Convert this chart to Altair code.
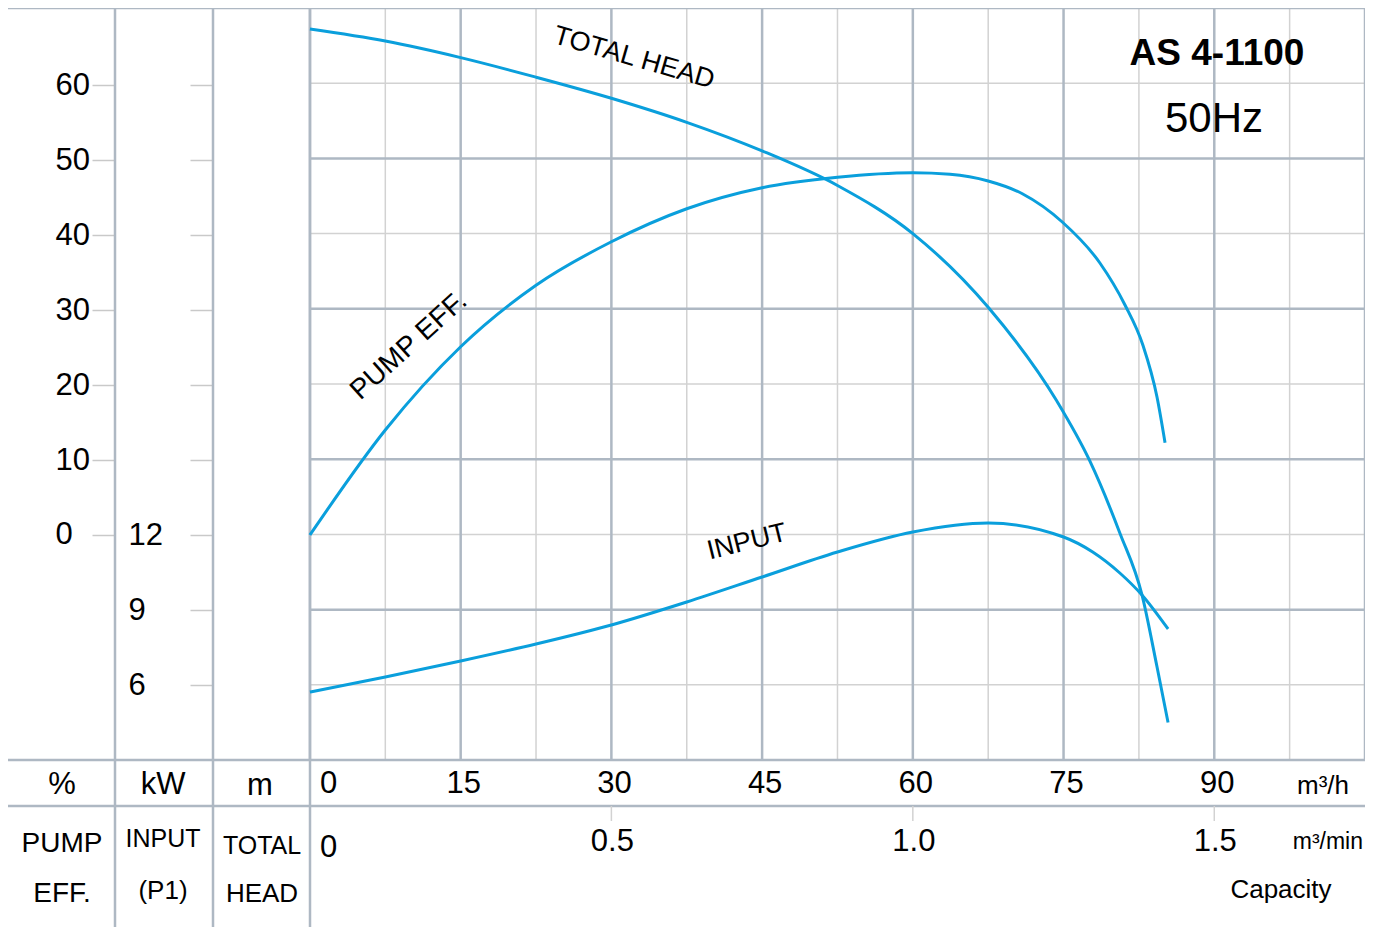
import altair as alt
import pandas as pd

# ---------------- data ----------------
# TOTAL HEAD curve (m) vs capacity (m3/h)
head_flow = [0, 7.5, 15, 22.5, 30, 37.5, 45, 52.5, 60, 67.5, 74.3, 77.6, 80.6, 82.8, 84.3, 85.4]
head_m = [48.6, 47.8, 46.7, 45.4, 44.0, 42.4, 40.5, 38.2, 35.0, 30.1, 23.9, 19.9, 15.1, 11.0, 6.2, 2.5]

# PUMP EFF. curve (%) vs capacity (m3/h)
eff_flow = [0, 7.5, 15, 22.5, 30, 37.5, 45, 52.5, 60, 63.7, 67.5, 70.9, 74.9, 78.6, 81.1, 82.9, 84.3, 85.1]
eff_pct = [0, 14.0, 25.1, 33.3, 39.1, 43.5, 46.3, 47.7, 48.3, 48.1, 47.2, 45.5, 41.7, 36.3, 30.7, 25.3, 18.4, 12.3]

# INPUT (P1) curve (kW) vs capacity (m3/h)
input_flow = [0, 7.5, 15, 22.5, 30, 37.5, 45, 52.5, 60, 67.5, 75, 77.9, 80.6, 82.8, 85.4]
input_kw = [5.72, 6.32, 6.96, 7.64, 8.4, 9.32, 10.32, 11.32, 12.12, 12.48, 11.92, 11.32, 10.48, 9.6, 8.24]

# axis ticks
eff_ticks = [0, 10, 20, 30, 40, 50, 60]
kw_ticks = [6, 9, 12, 15, 18, 21, 24, 27, 30]
head_ticks = [10, 20, 30, 40]
flow_ticks = [0, 15, 30, 45, 60, 75, 90]
flow_min_ticks = [0.5, 1.0, 1.5]
grid_major_q = [0, 15, 30, 45, 60, 75, 90, 105]
grid_minor_q = [7.5, 22.5, 37.5, 52.5, 67.5, 82.5, 97.5]
grid_major_h = [10, 20, 30, 40]
grid_minor_h = [5, 15, 25, 35, 45]

title_model = "AS 4-1100"
title_freq = "50Hz"

# ---------------- styling ----------------
W, H = 1357, 919
FONT = "Liberation Sans, Arial, sans-serif"
MAJOR = "#aeb8c3"
MINOR = "#d2d2d2"
TICK = "#c9c9c9"
BLUE = "#0a9fdc"
INTERP = "monotone"

q_scale = alt.Scale(domain=[-30.05, 105], nice=False, zero=False)
head_scale = alt.Scale(domain=[-11.1, 50], nice=False, zero=False)
eff_scale = alt.Scale(domain=[-52.27, 70.27], nice=False, zero=False)
kw_scale = alt.Scale(domain=[-3.68, 33.08], nice=False, zero=False)

head_df = pd.DataFrame({"q": head_flow, "v": head_m})
eff_df = pd.DataFrame({"q": eff_flow, "v": eff_pct})
kw_df = pd.DataFrame({"q": input_flow, "v": input_kw})


def X():
    return alt.X("q:Q", scale=q_scale, axis=None)


# ----- grid -----
vmin = alt.Chart(pd.DataFrame({"q": grid_minor_q})).mark_rule(color=MINOR, strokeWidth=1.5).encode(
    x=X(), y=alt.value(0), y2=alt.value(752))
vmaj = alt.Chart(pd.DataFrame({"q": grid_major_q})).mark_rule(color=MAJOR, strokeWidth=2.5).encode(
    x=X(), y=alt.value(0), y2=alt.value(752))
hmin = alt.Chart(pd.DataFrame({"h": grid_minor_h})).mark_rule(color=MINOR, strokeWidth=1.5).encode(
    y=alt.Y("h:Q", scale=head_scale, axis=None), x=alt.value(302), x2=alt.value(W))
hmaj = alt.Chart(pd.DataFrame({"h": grid_major_h})).mark_rule(color=MAJOR, strokeWidth=2.5).encode(
    y=alt.Y("h:Q", scale=head_scale, axis=None), x=alt.value(302), x2=alt.value(W))

# table frame lines
frame_h = alt.Chart(pd.DataFrame({"r": [0, 752, 798]})).mark_rule(color=MAJOR, strokeWidth=2.5).encode(
    y=alt.Y("r:Q", scale=None), x=alt.value(0), x2=alt.value(W))
frame_v = alt.Chart(pd.DataFrame({"c": [107, 205, 302]})).mark_rule(color=MAJOR, strokeWidth=2.5).encode(
    x=alt.X("c:Q", scale=None), y=alt.value(0), y2=alt.value(H))

# m3/min ticks in second row
min_ticks = alt.Chart(pd.DataFrame({"m": flow_min_ticks})).transform_calculate(
    q="datum.m * 60").mark_rule(color=MINOR, strokeWidth=1.5).encode(
    x=X(), y=alt.value(798), y2=alt.value(813))

# ----- curves -----
head_line = alt.Chart(head_df).mark_line(color=BLUE, strokeWidth=3, interpolate=INTERP).encode(
    x=X(),
    y=alt.Y("v:Q", scale=head_scale,
            axis=alt.Axis(orient="left", offset=-302, values=head_ticks, ticks=False, domain=False,
                          grid=False, labelPadding=13, labelFont=FONT, labelFontSize=31,
                          labelColor="black", title=None, labelBaseline="middle")))

eff_line = alt.Chart(eff_df).mark_line(color=BLUE, strokeWidth=3, interpolate=INTERP).encode(
    x=X(),
    y=alt.Y("v:Q", scale=eff_scale,
            axis=alt.Axis(orient="left", offset=-107, values=eff_ticks, ticks=True, tickSize=23,
                          tickColor=TICK, tickWidth=1.5, domain=False, grid=False,
                          labelAlign="left", labelPadding=37, labelFont=FONT, labelFontSize=31,
                          labelColor="black", title=None, labelBaseline="middle")))

kw_line = alt.Chart(kw_df).mark_line(color=BLUE, strokeWidth=3, interpolate=INTERP).encode(
    x=X(),
    y=alt.Y("v:Q", scale=kw_scale,
            axis=alt.Axis(orient="left", offset=-205, values=kw_ticks, ticks=True, tickSize=23,
                          tickColor=TICK, tickWidth=1.5, domain=False, grid=False,
                          labelAlign="left", labelPadding=62, labelFont=FONT, labelFontSize=31,
                          labelColor="black", title=None, labelBaseline="middle",
                          labelExpr="datum.value <= 12 ? datum.label : ''")))

# ----- capacity labels -----
flow_df = pd.DataFrame({"q": flow_ticks, "t": [str(v) for v in flow_ticks]})
flow_lab0 = alt.Chart(flow_df).transform_filter("datum.q == 0").mark_text(
    font=FONT, fontSize=31, align="left", baseline="middle", dx=10, color="black").encode(
    x=X(), y=alt.value(776), text="t:N")
flow_lab = alt.Chart(flow_df).transform_filter("datum.q > 0").mark_text(
    font=FONT, fontSize=31, align="center", baseline="middle", dx=3, color="black").encode(
    x=X(), y=alt.value(776), text="t:N")

min_df = pd.DataFrame({"m": [0] + flow_min_ticks, "t": ["0", "0.5", "1.0", "1.5"]})
min_lab0 = alt.Chart(min_df).transform_filter("datum.m == 0").transform_calculate(
    q="datum.m * 60").mark_text(font=FONT, fontSize=31, align="left", baseline="middle",
                                 dx=10, color="black").encode(x=X(), y=alt.value(840), text="t:N")
min_lab = alt.Chart(min_df).transform_filter("datum.m > 0").transform_calculate(
    q="datum.m * 60").mark_text(font=FONT, fontSize=31, align="center", baseline="middle",
                                 dx=1, color="black").encode(x=X(), y=alt.value(834), text="t:N")


def label(text, x, y, size=30, align="center", angle=0, weight="normal"):
    return alt.Chart(pd.DataFrame({"t": [text]})).mark_text(
        font=FONT, fontSize=size, align=align, baseline="middle", angle=angle,
        fontWeight=weight, color="black").encode(x=alt.value(x), y=alt.value(y), text="t:N")


texts = [
    label("%", 54, 777, size=31),
    label("kW", 155, 777, size=31),
    label("m", 252, 778, size=31),
    label("PUMP", 54, 836, size=28),
    label("EFF.", 54, 886, size=28),
    label("INPUT", 155, 831, size=25),
    label("(P1)", 155, 883, size=26),
    label("TOTAL", 254, 838, size=25),
    label("HEAD", 254, 886, size=26),
    label("m³/h", 1289, 778, size=26, align="left"),
    label("m³/min", 1355, 834, size=23, align="right"),
    label("Capacity", 1273, 882, size=26),
    label(title_model, 1209, 46, size=37, weight="bold"),
    label(title_freq, 1206, 111, size=42),
    label("TOTAL HEAD", 626, 50, size=27, angle=16),
    label("PUMP EFF.", 401, 338, size=28, angle=318),
    label("INPUT", 739, 534, size=27, angle=346),
]

head_group = alt.layer(vmin, hmin, vmaj, hmaj, frame_h, frame_v, min_ticks, head_line,
                       flow_lab0, flow_lab, min_lab0, min_lab, *texts)

chart = alt.layer(head_group, eff_line, kw_line).resolve_scale(y="independent").properties(
    width=W, height=H, padding=0, autosize=alt.AutoSizeParams(type="none")
).configure_view(stroke=None)

chart.save("out.html", embed_options={"renderer": "svg", "actions": False})
